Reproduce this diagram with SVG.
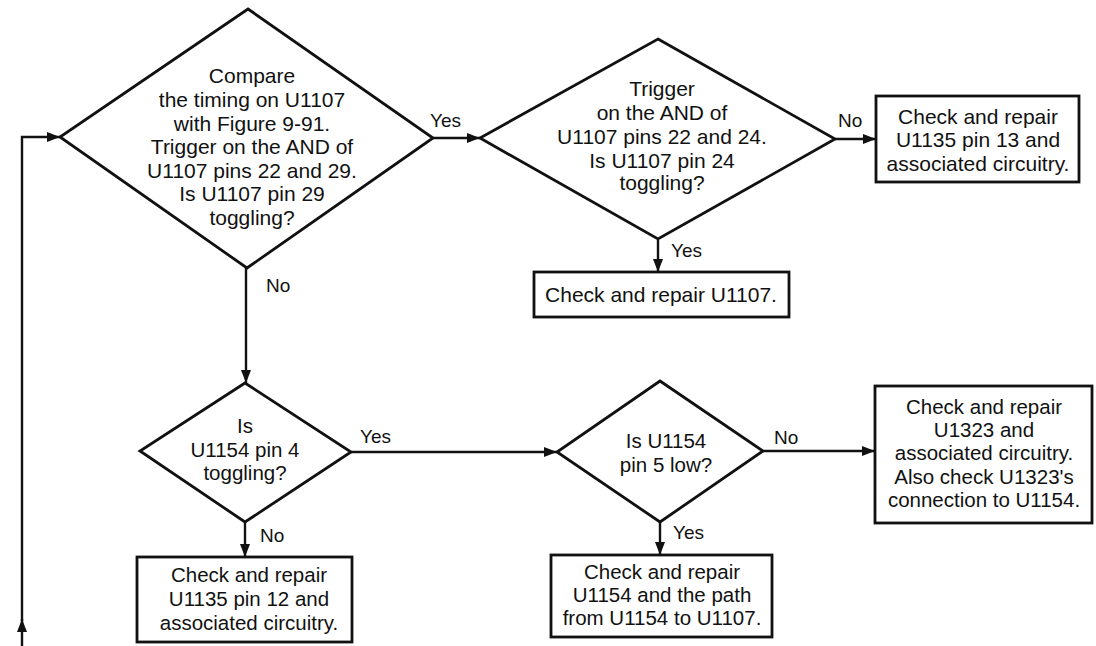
<svg xmlns="http://www.w3.org/2000/svg" width="1096" height="646" viewBox="0 0 1096 646">
<defs>
<style>
.shape{fill:none;stroke:#111;stroke-width:2.8;stroke-linejoin:miter}
.line{fill:none;stroke:#111;stroke-width:2.4}
text{font-family:"Liberation Sans",Arial,Helvetica,sans-serif;fill:#111;text-anchor:middle}
.t{font-size:21px}
.b{font-size:20.5px}
.lbl{font-size:19px;text-anchor:start}
</style>
<marker id="ah" markerUnits="userSpaceOnUse" markerWidth="14" markerHeight="10" refX="13" refY="5" orient="auto">
<path d="M0,0 L13,5 L0,10 z" fill="#111"/>
</marker>
</defs>
<rect width="1096" height="646" fill="#fff"/>

<g id="connectors">
<path class="line" d="M22,646 L22,619" marker-end="url(#ah)"/>
<path class="line" d="M22,621 L22,137 L60,137" marker-end="url(#ah)"/>
<path class="line" d="M433,138 L480,138" marker-end="url(#ah)"/>
<path class="line" d="M835,139 L876,139" marker-end="url(#ah)"/>
<path class="line" d="M658,240 L658,272" marker-end="url(#ah)"/>
<path class="line" d="M246,268 L246,383" marker-end="url(#ah)"/>
<path class="line" d="M351,452 L557,452" marker-end="url(#ah)"/>
<path class="line" d="M245,522 L245,557" marker-end="url(#ah)"/>
<path class="line" d="M763,451 L875,451" marker-end="url(#ah)"/>
<path class="line" d="M660,522 L660,555" marker-end="url(#ah)"/>
<text class="lbl" x="430" y="127">Yes</text>
<text class="lbl" x="838" y="127">No</text>
<text class="lbl" x="671" y="257">Yes</text>
<text class="lbl" x="266" y="292">No</text>
<text class="lbl" x="360" y="443">Yes</text>
<text class="lbl" x="260" y="542">No</text>
<text class="lbl" x="774" y="444">No</text>
<text class="lbl" x="673" y="539">Yes</text>
</g>

<g id="d1">
<polygon class="shape" points="248,9 433,138 247,268 60,137"/>
<text class="t" x="252" y="83">Compare</text>
<text class="t" x="252" y="107">the timing on U1107</text>
<text class="t" x="252" y="131">with Figure 9-91.</text>
<text class="t" x="252" y="154">Trigger on the AND of</text>
<text class="t" x="252" y="178">U1107 pins 22 and 29.</text>
<text class="t" x="252" y="201">Is U1107 pin 29</text>
<text class="t" x="252" y="225">toggling?</text>
</g>

<g id="d2">
<polygon class="shape" points="658,39 835,139 658,239 480,138"/>
<text class="t" x="662" y="96">Trigger</text>
<text class="t" x="662" y="120">on the AND of</text>
<text class="t" x="662" y="144">U1107 pins 22 and 24.</text>
<text class="t" x="662" y="168">Is U1107 pin 24</text>
<text class="t" x="662" y="190">toggling?</text>
</g>

<g id="b1">
<rect class="shape" x="876" y="96" width="203" height="86"/>
<text class="t" x="978" y="124">Check and repair</text>
<text class="t" x="978" y="147">U1135 pin 13 and</text>
<text class="t" x="978" y="171">associated circuitry.</text>
</g>

<g id="b2">
<rect class="shape" x="534" y="272" width="255" height="45"/>
<text class="t" x="661" y="302">Check and repair U1107.</text>
</g>

<g id="d3">
<polygon class="shape" points="245,383 351,452 245,522 140,451"/>
<text class="b" x="245" y="433">Is</text>
<text class="b" x="245" y="457">U1154 pin 4</text>
<text class="b" x="245" y="480">toggling?</text>
</g>

<g id="b3">
<rect class="shape" x="137" y="557" width="215" height="85"/>
<text class="b" x="249" y="582">Check and repair</text>
<text class="b" x="249" y="606">U1135 pin 12 and</text>
<text class="b" x="249" y="630">associated circuitry.</text>
</g>

<g id="d4">
<polygon class="shape" points="660,381 763,451 660,522 557,452"/>
<text class="b" x="666" y="448">Is U1154</text>
<text class="b" x="666" y="472">pin 5 low?</text>
</g>

<g id="b4">
<rect class="shape" x="875" y="386" width="217" height="137"/>
<text class="b" x="984" y="414">Check and repair</text>
<text class="b" x="984" y="437">U1323 and</text>
<text class="b" x="984" y="460">associated circuitry.</text>
<text class="b" x="984" y="484">Also check U1323's</text>
<text class="b" x="984" y="507">connection to U1154.</text>
</g>

<g id="b5">
<rect class="shape" x="551" y="555" width="221" height="82"/>
<text class="b" x="662" y="579">Check and repair</text>
<text class="b" x="662" y="602">U1154 and the path</text>
<text class="b" x="662" y="625">from U1154 to U1107.</text>
</g>
</svg>
